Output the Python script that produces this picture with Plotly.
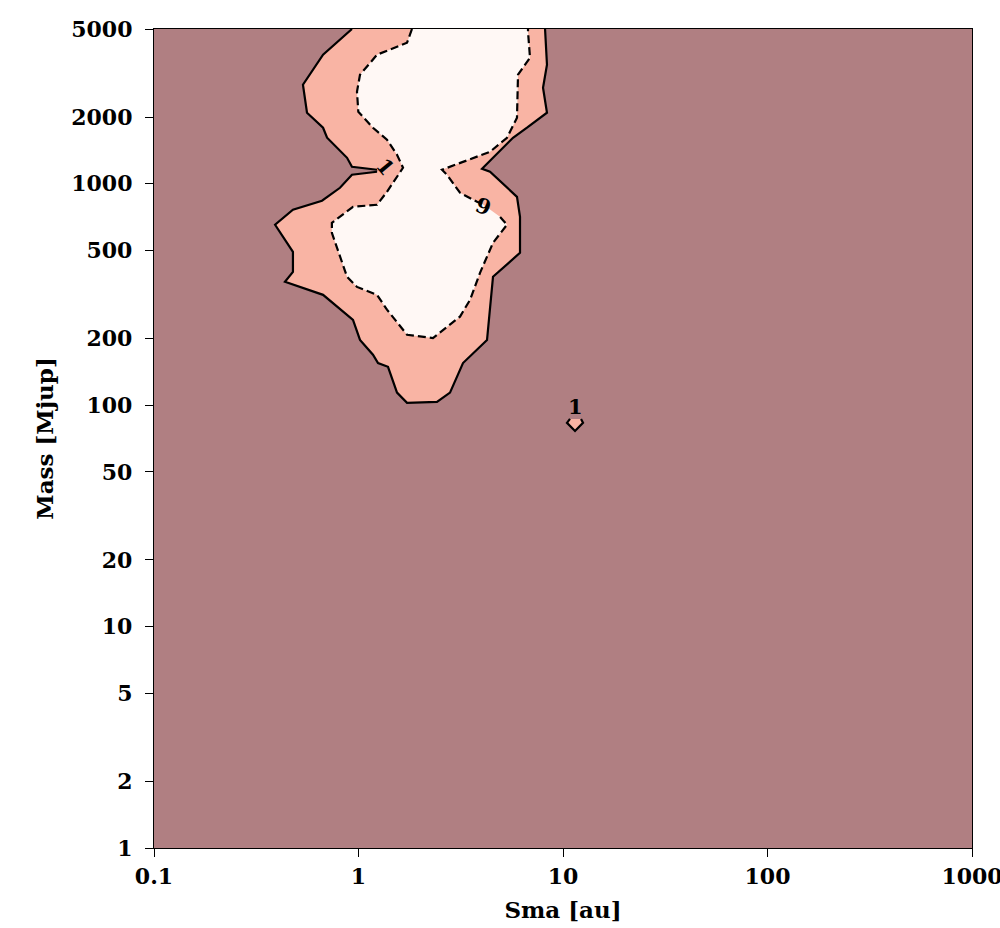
import numpy as np
import plotly.graph_objects as go

# ---- data ----
# outer (solid) contour, level "1": sma [au], mass [Mjup]
outer_sma = [0.929, 0.671, 0.535, 0.560, 0.671, 0.702, 0.879, 0.929, 1.232, 1.260,
             1.232, 0.929, 0.812, 0.663, 0.478, 0.391, 0.478, 0.478, 0.437, 0.671,
             0.940, 1.017, 1.177, 1.246, 1.394, 1.543, 1.727, 2.420, 2.802, 3.243,
             4.250, 4.396, 4.547, 6.163, 6.163, 5.957, 5.323, 4.396, 4.018, 4.547,
             5.694, 6.668, 8.35, 7.985, 8.35, 8.17]
outer_mass = [5000, 3827, 2801, 2093, 1791, 1614, 1310, 1193, 1157, 1145,
              1133, 1098, 959, 838, 763, 653, 493, 400, 361, 315,
              243, 197, 169, 155, 149, 114, 102.4, 103.5, 114, 155,
              197, 278, 380, 488, 709, 873, 959, 1133, 1169, 1310,
              1614, 1791, 2093, 2715, 3449, 5000]
# index where the solid line is broken by the "1" label
outer_break = 9

# inner (dashed) contour, level "9"
inner_sma = [1.826, 1.727, 1.232, 1.017, 0.983, 0.998, 1.177, 1.378, 1.543, 1.651,
             1.378, 1.232, 0.940, 0.741, 0.741, 0.879, 0.983, 1.232, 1.378, 1.727,
             2.313, 3.135, 3.510, 3.928, 4.547, 5.323, 4.920,
             4.018, 3.798, 3.135, 2.709, 2.560, 3.243, 4.396, 5.323, 5.957,
             6.026, 6.897, 6.743, 6.743]
inner_mass = [5000, 4337, 3827, 3108, 2605, 2115, 1791, 1581, 1352, 1181,
              920, 804, 787, 666, 600, 380, 342, 315, 270, 208,
              201, 251, 299, 396, 541, 653, 709,
              812, 829, 911, 1098, 1157, 1257, 1395, 1614, 1987,
              3108, 3710, 4862, 5000]
# index where the dashed line is broken by the "9" label
inner_break = 27

# small isolated island at level "1"
island_sma = [10.82, 10.46, 11.45, 12.53, 12.25]
island_mass = [86.7, 83.2, 76.5, 83.2, 86.7]

# contour labels
label_text = ["1", "9", "1"]
label_sma = [1.348, 4.108, 11.45]
label_mass = [1193, 787, 98.2]
label_angle = [50, 20, 0]

x_ticks = [0.1, 1, 10, 100, 1000]
x_tick_text = ["0.1", "1", "10", "100", "1000"]
y_ticks = [1, 2, 5, 10, 20, 50, 100, 200, 500, 1000, 2000, 5000]
y_tick_text = [str(v) for v in y_ticks]

# ---- style ----
C_LOW = "#b07f82"
C_MID = "#f9b4a4"
C_HIGH = "#fff8f5"
FONT = "DejaVu Serif"
FS = 22
FT = 23

fig = go.Figure()

# filled regions
fig.add_trace(go.Scatter(x=outer_sma, y=outer_mass, mode="lines", fill="toself",
                         fillcolor=C_MID, line=dict(width=0), hoverinfo="skip",
                         showlegend=False))
fig.add_trace(go.Scatter(x=inner_sma, y=inner_mass, mode="lines", fill="toself",
                         fillcolor=C_HIGH, line=dict(width=0), hoverinfo="skip",
                         showlegend=False))
fig.add_trace(go.Scatter(x=island_sma, y=island_mass, mode="lines", fill="toself",
                         fillcolor=C_MID, line=dict(width=0), hoverinfo="skip",
                         showlegend=False))

# contour lines (broken where labels sit)
lw = 2.2
dash = "8px,4px"
fig.add_trace(go.Scatter(x=outer_sma[:outer_break], y=outer_mass[:outer_break],
                         mode="lines", line=dict(color="black", width=lw),
                         hoverinfo="skip", showlegend=False))
fig.add_trace(go.Scatter(x=outer_sma[outer_break + 1:], y=outer_mass[outer_break + 1:],
                         mode="lines", line=dict(color="black", width=lw),
                         hoverinfo="skip", showlegend=False))
fig.add_trace(go.Scatter(x=inner_sma[:inner_break], y=inner_mass[:inner_break],
                         mode="lines", line=dict(color="black", width=lw, dash=dash),
                         hoverinfo="skip", showlegend=False))
fig.add_trace(go.Scatter(x=inner_sma[inner_break:], y=inner_mass[inner_break:],
                         mode="lines", line=dict(color="black", width=lw, dash=dash),
                         hoverinfo="skip", showlegend=False))
fig.add_trace(go.Scatter(x=island_sma, y=island_mass, mode="lines",
                         line=dict(color="black", width=lw),
                         hoverinfo="skip", showlegend=False))

for t, xs, ys, a in zip(label_text, label_sma, label_mass, label_angle):
    fig.add_annotation(x=np.log10(xs), y=np.log10(ys), text=t, showarrow=False,
                       textangle=a,
                       font=dict(family=FONT, size=21, color="black", weight="bold"),
                       xref="x", yref="y")

axis_common = dict(
    type="log", showgrid=False, zeroline=False, showline=True, mirror=True,
    linecolor="black", linewidth=1.3, ticks="outside", ticklen=8, tickwidth=1.3,
    tickcolor="black", automargin=False, ticklabeloverflow="allow",
    tickfont=dict(family=FONT, size=FS, color="black", weight="bold"),
)

fig.update_layout(
    width=1000, height=928,
    margin=dict(l=154, r=28, t=29, b=80),
    paper_bgcolor="white", plot_bgcolor=C_LOW,
    font=dict(family=FONT, color="black"),
    xaxis=dict(range=[-1, 3], tickvals=x_ticks, ticktext=x_tick_text,
               title=dict(text="Sma [au]",
                          font=dict(family=FONT, size=FT, weight="bold"),
                          standoff=14),
               **axis_common),
    yaxis=dict(range=[0, np.log10(5000)], tickvals=y_ticks, ticktext=y_tick_text,
               ticklabelstandoff=8,
               title=dict(text="Mass [Mjup]",
                          font=dict(family=FONT, size=FT, weight="bold"),
                          standoff=11),
               **axis_common),
)

fig.write_html("out.html")
